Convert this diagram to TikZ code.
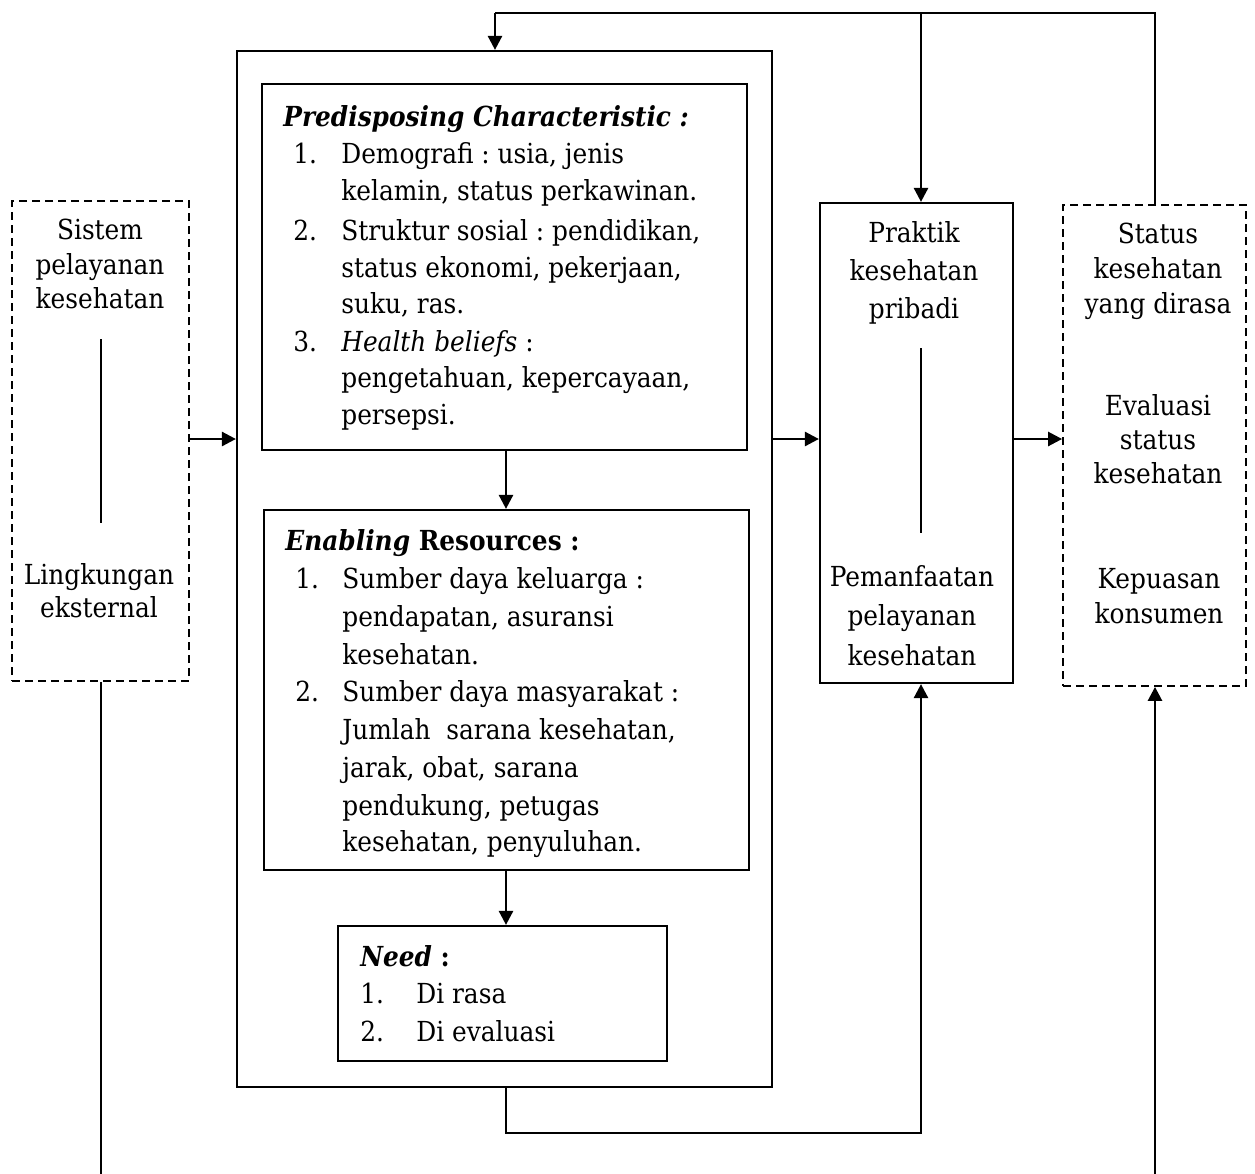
\documentclass[tikz,border=0pt]{standalone}
\usepackage{fontspec}
\setmainfont{DejaVu Serif Condensed}
\usetikzlibrary{arrows.meta,fit}
\frenchspacing
\tikzset{
  txt/.style={inner sep=0pt, font=\fontsize{13.8}{16}\selectfont},
  lft/.style={txt, anchor=base west},
  ctr/.style={txt, anchor=base},
  box/.style={draw, line width=1.1pt, inner sep=0pt},
  dbox/.style={draw, line width=0.9pt, dash pattern=on 4pt off 2.5pt, inner sep=0pt},
  ln/.style={line width=1.2pt},
  thinln/.style={line width=0.6pt},
  arr/.style={line width=1.3pt, -{Triangle[length=7pt,width=7pt]}},
}
\begin{document}
\begin{tikzpicture}[x=0.5pt, y=-0.5pt]
\useasboundingbox (0,0) rectangle (1255,1174);
% boxes
\node[box, fit={(237,51) (772,1087)}] (outer) {};
\node[box, fit={(262,84) (747,450)}] (pred) {};
\node[box, fit={(264,510) (749,870)}] (enab) {};
\node[box, fit={(338,926) (667,1061)}] (need) {};
\node[dbox, fit={(12,201) (189,681)}] (left) {};
\node[box, fit={(820,203) (1013,683)}] (prak) {};
\node[dbox, fit={(1063,205) (1246,686)}] (stat) {};
% Predisposing text
\node[lft] (p0) at (283,126) {\textbf{\textit{Predisposing Characteristic :}}};
\node[lft] (p1n) at (293,163) {1.};
\node[lft] (p1) at (341,163) {Demografi : usia, jenis};
\node[lft] (p2) at (341,200) {kelamin, status perkawinan.};
\node[lft] (p3n) at (293,240) {2.};
\node[lft] (p3) at (341,240) {Struktur sosial : pendidikan,};
\node[lft] (p4) at (341,277) {status ekonomi, pekerjaan,};
\node[lft] (p5) at (341,313) {suku, ras.};
\node[lft] (p6n) at (293,351) {3.};
\node[lft] (p6) at (341,351) {\textit{Health beliefs} :};
\node[lft] (p7) at (341,387) {pengetahuan, kepercayaan,};
\node[lft] (p8) at (341,424) {persepsi.};
% Enabling text
\node[lft] (e0) at (285,550) {\textbf{\textit{Enabling} Resources :}};
\node[lft] (e1n) at (295,588) {1.};
\node[lft] (e1) at (342,588) {Sumber daya keluarga :};
\node[lft] (e2) at (342,626) {pendapatan, asuransi};
\node[lft] (e3) at (342,664) {kesehatan.};
\node[lft] (e4n) at (295,701) {2.};
\node[lft] (e4) at (342,701) {Sumber daya masyarakat :};
\node[lft] (e5) at (342,739) {Jumlah\ \ sarana kesehatan,};
\node[lft] (e6) at (342,777) {jarak, obat, sarana};
\node[lft] (e7) at (342,815) {pendukung, petugas};
\node[lft] (e8) at (342,851) {kesehatan, penyuluhan.};
% Need text
\node[lft] (n0) at (360,966) {\textbf{\textit{Need} :}};
\node[lft] (n1n) at (360,1003) {1.};
\node[lft] (n1) at (416,1003) {Di rasa};
\node[lft] (n2n) at (360,1041) {2.};
\node[lft] (n2) at (416,1041) {Di evaluasi};
% left box text
\node[ctr] (l1) at (100,239) {Sistem};
\node[ctr] (l2) at (100,274) {pelayanan};
\node[ctr] (l3) at (100,308) {kesehatan};
\node[ctr] (l4) at (99,584) {Lingkungan};
\node[ctr] (l5) at (99,617) {eksternal};
% praktik text
\node[ctr] (k1) at (914,242) {Praktik};
\node[ctr] (k2) at (914,280) {kesehatan};
\node[ctr] (k3) at (914,318) {pribadi};
\node[ctr] (k4) at (912,586) {Pemanfaatan};
\node[ctr] (k5) at (912,625) {pelayanan};
\node[ctr] (k6) at (912,665) {kesehatan};
% status text
\node[ctr] (s1) at (1158,243) {Status};
\node[ctr] (s2) at (1158,278) {kesehatan};
\node[ctr] (s3) at (1158,313) {yang dirasa};
\node[ctr] (s4) at (1158,415) {Evaluasi};
\node[ctr] (s5) at (1158,449) {status};
\node[ctr] (s6) at (1158,483) {kesehatan};
\node[ctr] (s7) at (1159,588) {Kepuasan};
\node[ctr] (s8) at (1159,623) {konsumen};
% coordinates
\coordinate (ymid) at (0,439);
\coordinate (tl) at (495,13);
\coordinate (tm) at (921,13);
\coordinate (tr) at (1155,13);
\coordinate (bl) at (506,1133);
\coordinate (br) at (921,1133);
\coordinate (lb) at (101,1174);
\coordinate (rb) at (1155,1174);
\coordinate (la) at (101,339);
\coordinate (lz) at (101,523);
\coordinate (ka) at (921,348);
\coordinate (kz) at (921,533);
% inner thin lines
\draw[thinln] (la) -- (lz);
\draw[thinln] (ka) -- (kz);
% horizontal arrows
\draw[arr] (left.east |- ymid) -- (outer.west |- ymid);
\draw[arr] (outer.east |- ymid) -- (prak.west |- ymid);
\draw[arr] (prak.east |- ymid) -- (stat.west |- ymid);
% vertical arrows inside
\draw[arr] (pred.south -| bl) -- (enab.north -| bl);
\draw[arr] (enab.south -| bl) -- (need.north -| bl);
% top feedback
\draw[ln] (stat.north -| tr) -- (tr) -- (tl);
\draw[arr] (tl) -- (outer.north -| tl);
\draw[arr] (tm) -- (prak.north -| tm);
% bottom connector
\draw[arr] (outer.south -| bl) -- (bl) -- (br) -- (prak.south -| br);
% long lines
\draw[ln] (left.south -| lb) -- (lb);
\draw[arr] (rb) -- (stat.south -| rb);
\end{tikzpicture}
\end{document}
